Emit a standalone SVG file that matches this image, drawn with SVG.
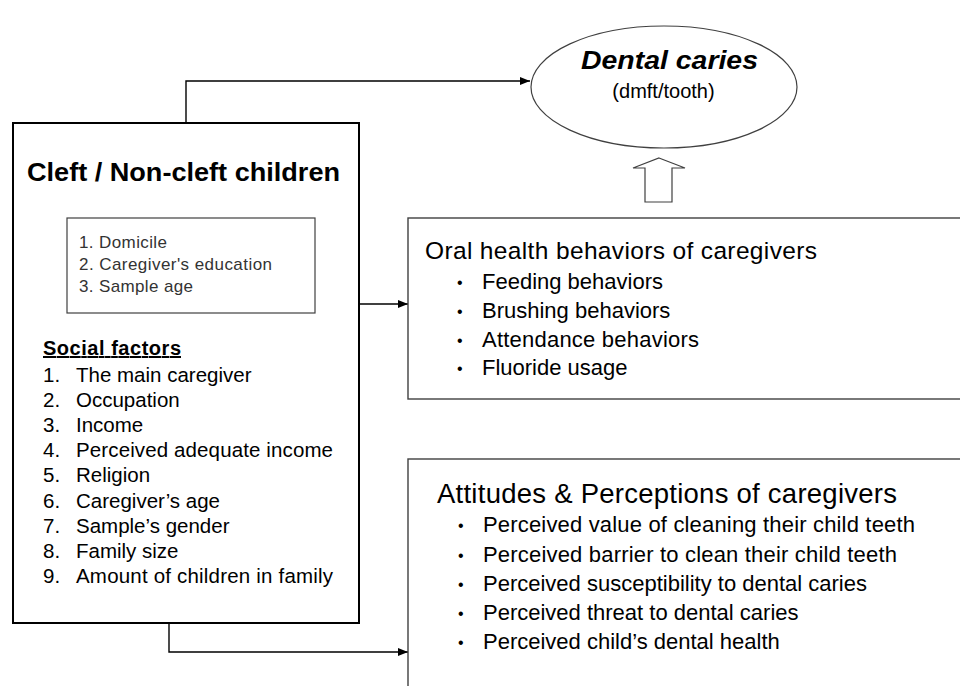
<svg xmlns="http://www.w3.org/2000/svg" width="960" height="686" viewBox="0 0 960 686">
<style>
text{font-family:"Liberation Sans",Arial,sans-serif;fill:#000}
.box{fill:#fff;stroke:#404040;stroke-width:1.4}
.conn{fill:none;stroke:#000;stroke-width:1.4}
.li{font-size:20.5px}
.ob{font-size:22px}
.ab{font-size:22px}
.bu{font-size:16px}
</style>
<defs>
<marker id="ah" viewBox="0 0 10 8" refX="10" refY="4" markerWidth="10" markerHeight="8" markerUnits="userSpaceOnUse" orient="auto">
<path d="M0,0 L10,4 L0,8 Z" fill="#000"/>
</marker>
</defs>
<rect width="960" height="686" fill="#fff"/>
<g id="connectors">
<path class="conn" d="M186,123 V81 H530" marker-end="url(#ah)"/>
<path class="conn" d="M359,304 H408" marker-end="url(#ah)"/>
<path class="conn" d="M169,623 V652 H408" marker-end="url(#ah)"/>
<path d="M659,158 L685,168 L672,168 L672,202 L645,202 L645,168 L633,168 Z" fill="#fff" stroke="#404040" stroke-width="1.2"/>
</g>
<g id="dental-caries">
<ellipse cx="664" cy="87" rx="133" ry="61" fill="#fff" stroke="#404040" stroke-width="1.2"/>
<text x="669.5" y="69" text-anchor="middle" font-size="26" font-weight="bold" font-style="italic" textLength="177" lengthAdjust="spacingAndGlyphs">Dental caries</text>
<text x="663.5" y="98" text-anchor="middle" font-size="20">(dmft/tooth)</text>
</g>
<g id="cleft-children">
<rect x="13" y="123" width="346" height="500" fill="#fff" stroke="#000" stroke-width="2"/>
<text x="27" y="181" font-size="26" font-weight="bold" textLength="313" lengthAdjust="spacingAndGlyphs">Cleft / Non-cleft children</text>
<g id="confounders">
<rect x="67" y="218" width="248" height="95" fill="#fff" stroke="#404040" stroke-width="1.2"/>
<text x="79" y="248" font-size="17" style="fill:#333" textLength="88">1. Domicile</text>
<text x="79" y="270" font-size="17" style="fill:#333" textLength="193">2. Caregiver's education</text>
<text x="79" y="292" font-size="17" style="fill:#333" textLength="114">3. Sample age</text>
</g>
<text x="43" y="355" font-size="20" font-weight="bold" text-decoration="underline" textLength="138">Social factors</text>
<g class="li">
<text x="43" y="381.5">1.</text><text x="76" y="381.5">The main caregiver</text>
<text x="43" y="406.7">2.</text><text x="76" y="406.7">Occupation</text>
<text x="43" y="431.9">3.</text><text x="76" y="431.9">Income</text>
<text x="43" y="457.1">4.</text><text x="76" y="457.1" textLength="257">Perceived adequate income</text>
<text x="43" y="482.3">5.</text><text x="76" y="482.3">Religion</text>
<text x="43" y="507.5">6.</text><text x="76" y="507.5">Caregiver’s age</text>
<text x="43" y="532.7">7.</text><text x="76" y="532.7">Sample’s gender</text>
<text x="43" y="557.9">8.</text><text x="76" y="557.9">Family size</text>
<text x="43" y="583.1">9.</text><text x="76" y="583.1" textLength="257">Amount of children in family</text>
</g>
</g>
<g id="oral-health">
<rect class="box" x="408" y="218" width="560" height="181"/>
<text x="425" y="259" font-size="24.5" textLength="392">Oral health behaviors of caregivers</text>
<g class="ob">
<text class="bu" x="457" y="288">•</text><text x="482" y="289">Feeding behaviors</text>
<text class="bu" x="457" y="317">•</text><text x="482" y="318">Brushing behaviors</text>
<text class="bu" x="457" y="346">•</text><text x="482" y="347" textLength="217">Attendance behaviors</text>
<text class="bu" x="457" y="374">•</text><text x="482" y="375">Fluoride usage</text>
</g>
</g>
<g id="attitudes">
<rect class="box" x="408" y="459" width="560" height="240"/>
<text x="437" y="503" font-size="27.5" textLength="460">Attitudes &amp; Perceptions of caregivers</text>
<g class="ab">
<text class="bu" x="458" y="531">•</text><text x="483" y="532" textLength="432">Perceived value of cleaning their child teeth</text>
<text class="bu" x="458" y="560.5">•</text><text x="483" y="561.5" textLength="414">Perceived barrier to clean their child teeth</text>
<text class="bu" x="458" y="589.5">•</text><text x="483" y="590.5">Perceived susceptibility to dental caries</text>
<text class="bu" x="458" y="619">•</text><text x="483" y="620">Perceived threat to dental caries</text>
<text class="bu" x="458" y="648">•</text><text x="483" y="649">Perceived child’s dental health</text>
</g>
</g>
</svg>
